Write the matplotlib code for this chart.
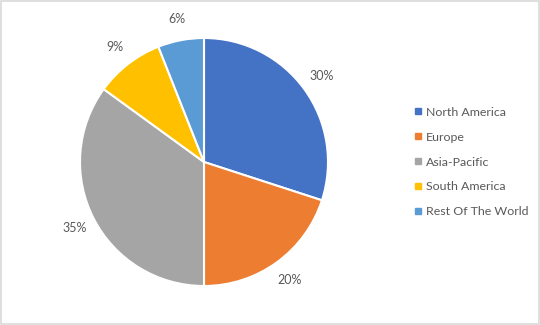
import matplotlib
matplotlib.use("Agg")
import matplotlib.pyplot as plt
from matplotlib.lines import Line2D

categories = ["North America", "Europe", "Asia-Pacific", "South America", "Rest Of The World"]
values = [30, 20, 35, 9, 6]
colors = ["#4472C4", "#ED7D31", "#A5A5A5", "#FFC000", "#5B9BD5"]

plt.rcParams['font.family'] = ['Lato', 'DejaVu Sans']
text_color = "#595959"

fig = plt.figure(figsize=(5.4, 3.25), dpi=100)
fig.patch.set_facecolor("white")
ax = fig.add_axes([80/540, (325-286)/325, 248/540, 248/325])
wedges, texts = ax.pie(values, colors=colors, startangle=90, counterclock=False,
                       radius=1.0,
                       labels=[f"{v}%" for v in values], labeldistance=1.175,
                       wedgeprops=dict(edgecolor="white", linewidth=1.5),
                       textprops=dict(fontsize=9, color=text_color))
for t in texts:
    t.set_ha("center")
    t.set_va("center")
ax.set_xlim(-1, 1)
ax.set_ylim(-1, 1)
ax.set_aspect("equal")
ax.axis("off")

handles = [Line2D([0], [0], marker='s', linestyle='none', markersize=4.5,
                  markerfacecolor=c, markeredgecolor=c) for c in colors]
fig.legend(handles, categories, loc="center left", bbox_to_anchor=(414/540, 1 - 162/325),
           frameon=False, fontsize=8.9, labelspacing=1.13, handlelength=0.6,
           handletextpad=0.35, labelcolor=text_color, borderaxespad=0, borderpad=0)

border = plt.Rectangle((0.001, 0.002), 0.997, 0.995, transform=fig.transFigure,
                       fill=False, edgecolor="#D9D9D9", linewidth=1.2)
fig.patches.append(border)

fig.savefig("out.png", dpi=100)
